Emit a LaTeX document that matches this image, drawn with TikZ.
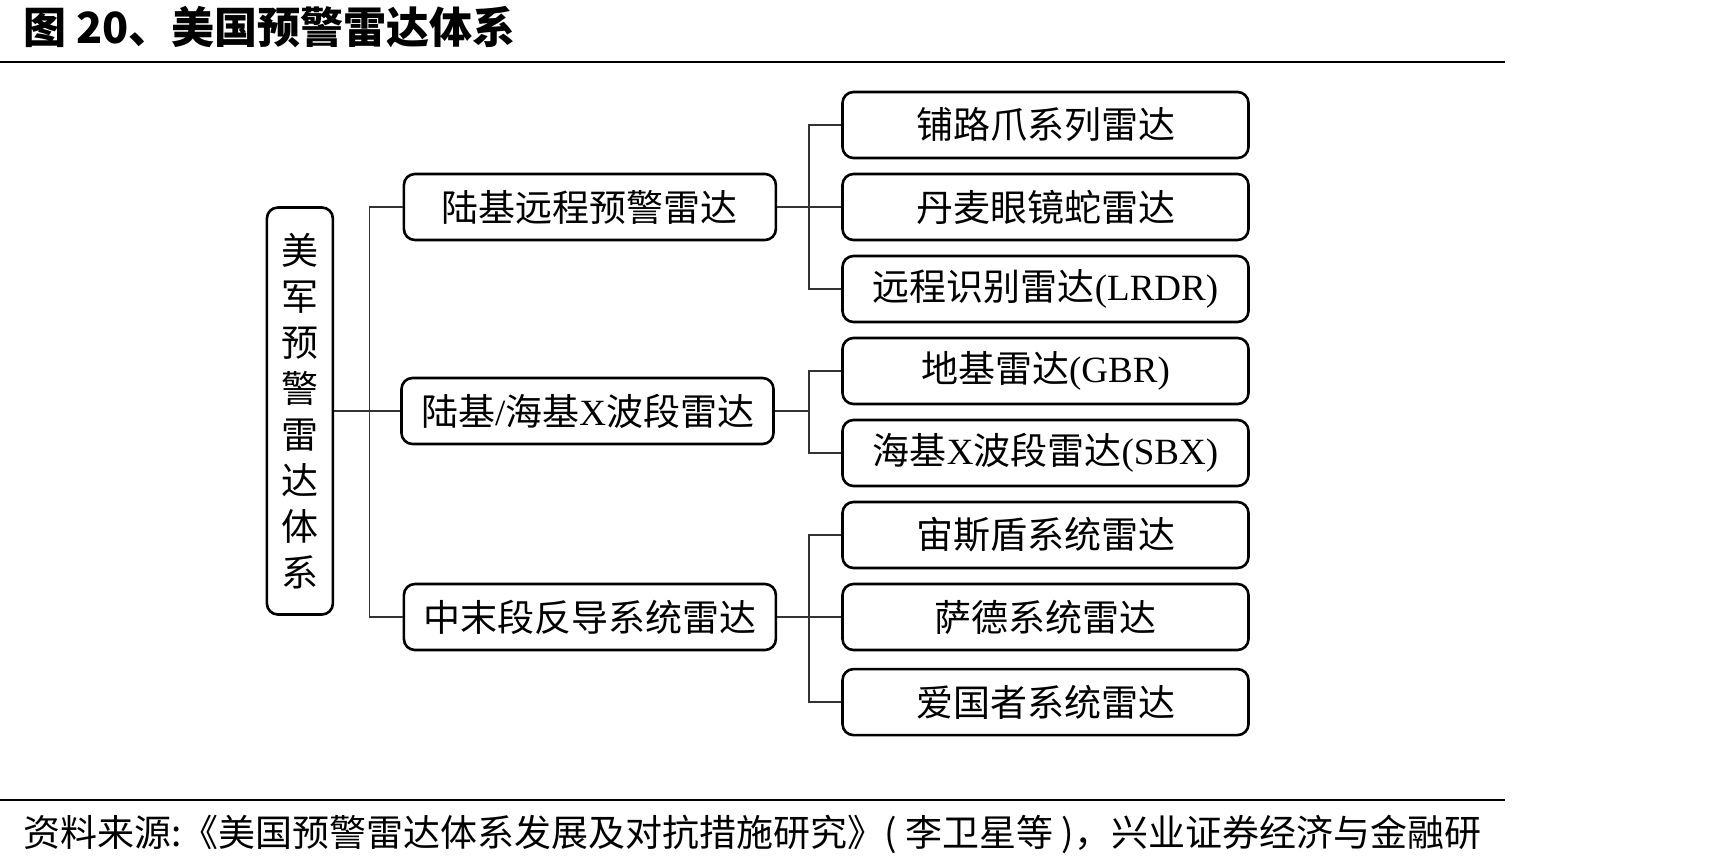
\documentclass[tikz,border=0pt]{standalone}
\usepackage{fontspec}
\setmainfont{Noto Sans CJK SC}
\newfontfamily\latin{Liberation Serif}
\usetikzlibrary{positioning}
\tikzstyle{block}=[draw,rectangle,line width=2.6pt,rounded corners=11pt,minimum height=66pt,inner sep=0pt]
\tikzstyle{group}=[block,minimum width=372pt]
\tikzstyle{leaf}=[block,minimum width=406pt]
\tikzstyle{link}=[line width=1.6pt,black!80]
\tikzstyle{every node}=[font=\fontsize{37}{46}\selectfont]
\newcommand{\en}[1]{{\latin #1}}

\begin{document}
\begin{tikzpicture}[x=1pt,y=-1pt,node distance=13.4pt]
  \useasboundingbox (0,0) rectangle (1731,867);
  % title and rules
  \node[anchor=west,font=\fontsize{43}{43}\selectfont\bfseries] (title) at (20,27) {图 20、美国预警雷达体系};
  \draw[line width=2pt] (0,62) -- (1505,62);
  \draw[line width=2pt] (0,800) -- (1505,800);
  \node[anchor=west,font=\fontsize{37}{37}\selectfont] (source) at (20,834) {资料来源:《美国预警雷达体系发展及对抗措施研究》( 李卫星等 )，兴业证券经济与金融研};
  % radars
  \node[leaf] (r1) at (1045.5,125) {铺路爪系列雷达};
  \node[leaf, below=of r1] (r2) {丹麦眼镜蛇雷达};
  \node[leaf, below=of r2] (r3) {远程识别雷达\en{(LRDR)}};
  \node[leaf, below=of r3] (r4) {地基雷达\en{(GBR)}};
  \node[leaf, below=of r4] (r5) {海基\en{X}波段雷达\en{(SBX)}};
  \node[leaf, below=of r5] (r6) {宙斯盾系统雷达};
  \node[leaf, below=of r6] (r7) {萨德系统雷达};
  \node[leaf, below=16.5pt of r7] (r8) {爱国者系统雷达};
  % groups
  \node[group, left=64pt of r2] (g1) {陆基远程预警雷达};
  \node[group] (g2) at (587.5,411) {陆基\en{/}海基\en{X}波段雷达};
  \node[group, left=64pt of r7] (g3) {中末段反导系统雷达};
  \node[block, left=66pt of g2, minimum width=66pt, minimum height=407pt, align=center] (root)
    {美\\军\\预\\警\\雷\\达\\体\\系};
  % connectors
  \draw[link] (root) -- (g2);
  \draw[link] (g1.west) -- ++(-33,0) |- (g3.west);
  \draw[link] (g1) -- (r2);
  \draw[link] (r1.west) -- ++(-32,0) |- (r3.west);
  \draw[link] (g2.east) -- ++(34,0);
  \draw[link] (r4.west) -- ++(-32,0) |- (r5.west);
  \draw[link] (g3) -- (r7);
  \draw[link] (r6.west) -- ++(-32,0) |- (r8.west);
\end{tikzpicture}
\end{document}
